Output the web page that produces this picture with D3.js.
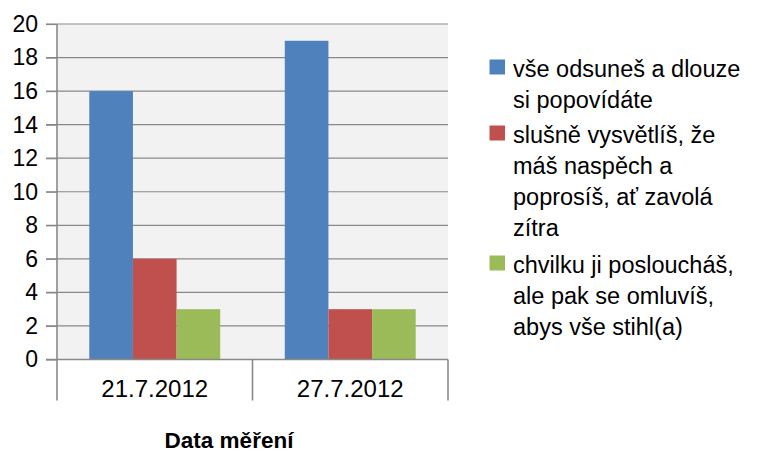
<!DOCTYPE html>
<html>
<head>
<meta charset="utf-8">
<script src="https://cdn.jsdelivr.net/npm/d3@7"></script>
<style>
  body { margin: 0; background: #fff; }
  text { font-family: "Liberation Sans", Arial, sans-serif; fill: #000; }
</style>
</head>
<body>
<div id="chart"></div>
<script>
// categories on the x axis
const categories = ['21.7.2012', '27.7.2012'];

// series names (legend lines) and values
const seriesNames = [
    ['vše odsuneš a dlouze', 'si popovídáte'],
    ['slušně vysvětlíš, že', 'máš naspěch a', 'poprosíš, ať zavolá', 'zítra'],
    ['chvilku ji posloucháš,', 'ale pak se omluvíš,', 'abys vše stihl(a)']
];
const seriesValues = [
    [16, 19],
    [6, 3],
    [3, 3]
];
const seriesColors = ['#4f81bd', '#c0504d', '#9bbb59'];

const yTicks = [0, 2, 4, 6, 8, 10, 12, 14, 16, 18, 20];
const xTitle = 'Data měření';

const width = 757, height = 454;
const margin = {top: 24, right: 309, bottom: 94.5, left: 57};
const plotW = width - margin.left - margin.right;
const plotH = height - margin.top - margin.bottom;

const svg = d3.select('#chart')
    .append('svg')
    .attr('width', width)
    .attr('height', height);

const g = svg.append('g')
    .attr('transform', 'translate(' + margin.left + ',' + margin.top + ')');

// scales
const x0 = d3.scaleBand()
    .domain(categories)
    .range([0, plotW])
    .padding(0);

const x1 = d3.scaleBand()
    .domain(d3.range(seriesValues.length))
    .range([0, x0.bandwidth()])
    .paddingInner(0)
    .paddingOuter(0.74);

const y = d3.scaleLinear()
    .domain([0, 20])
    .range([plotH, 0]);

// plot background
g.append('rect')
    .attr('x', 0)
    .attr('y', 0)
    .attr('width', plotW)
    .attr('height', plotH)
    .attr('fill', '#f2f2f2');

// gridlines
g.append('g')
    .selectAll('line')
    .data(yTicks.filter(d => d > 0))
    .join('line')
    .attr('x1', -11)
    .attr('x2', plotW)
    .attr('y1', d => y(d))
    .attr('y2', d => y(d))
    .attr('stroke', '#898989')
    .attr('stroke-width', 1.2);

// y axis
const yAxis = g.append('g')
    .call(d3.axisLeft(y).tickValues(yTicks).tickSize(11).tickPadding(8));
yAxis.select('.domain')
    .attr('stroke', '#898989')
    .attr('stroke-width', 1.6)
    .attr('d', 'M0,' + plotH + 'V0');
yAxis.selectAll('.tick line')
    .attr('stroke', '#898989')
    .attr('stroke-width', 1.2);
yAxis.selectAll('.tick text')
    .style('font-size', '23px')
    .attr('fill', '#000');

// bars
const groups = g.append('g')
    .selectAll('g')
    .data(seriesValues)
    .join('g')
    .attr('fill', (d, i) => seriesColors[i]);

groups.each(function(vals, si) {
    d3.select(this).selectAll('rect')
        .data(vals)
        .join('rect')
        .attr('x', (d, ci) => x0(categories[ci]) + x1(si))
        .attr('y', d => y(d))
        .attr('width', x1.bandwidth())
        .attr('height', d => plotH - y(d));
});

// x axis
const xAxis = g.append('g')
    .attr('transform', 'translate(0,' + plotH + ')')
    .call(d3.axisBottom(x0).tickSize(0).tickPadding(20));
xAxis.select('.domain').remove();
xAxis.selectAll('.tick text')
    .style('font-size', '24px')
    .attr('fill', '#000');

g.append('line')
    .attr('x1', -11)
    .attr('x2', plotW)
    .attr('y1', plotH)
    .attr('y2', plotH)
    .attr('stroke', '#898989')
    .attr('stroke-width', 1.6);

// category separators
g.append('g')
    .selectAll('line')
    .data(d3.range(categories.length + 1))
    .join('line')
    .attr('x1', i => i * x0.step())
    .attr('x2', i => i * x0.step())
    .attr('y1', plotH)
    .attr('y2', plotH + 41)
    .attr('stroke', '#898989')
    .attr('stroke-width', 1.6);

// x axis title
svg.append('text')
    .attr('x', 229)
    .attr('y', 448)
    .attr('text-anchor', 'middle')
    .style('font-size', '22.5px')
    .style('font-weight', 'bold')
    .text(xTitle);

// legend
const legend = svg.append('g');
const legendStarts = [77, 143, 273];
const lineH = 31;

seriesNames.forEach((lines, i) => {
    const base = legendStarts[i];
    legend.append('rect')
        .attr('x', 489.5)
        .attr('y', base - 17.5)
        .attr('width', 15.5)
        .attr('height', 15)
        .attr('fill', seriesColors[i]);
    lines.forEach((t, k) => {
        legend.append('text')
            .attr('x', 513)
            .attr('y', base + k * lineH)
            .style('font-size', '23.5px')
            .text(t);
    });
});
</script>
</body>
</html>
